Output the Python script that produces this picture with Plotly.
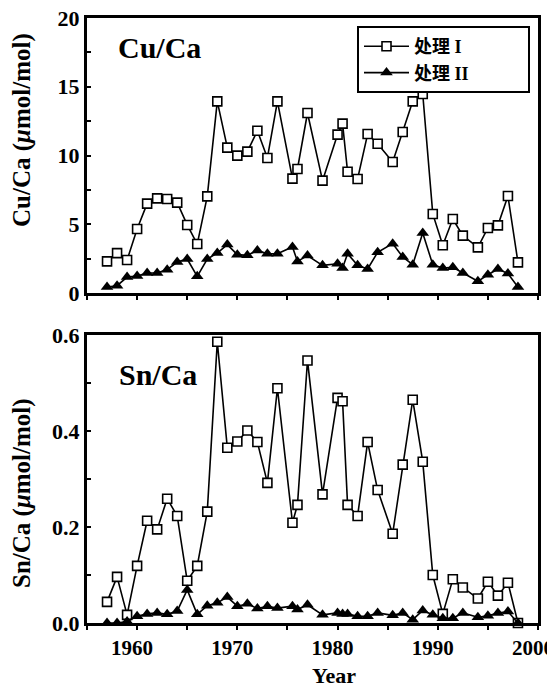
import plotly.graph_objects as go

# ---- data ----
years = [1957, 1958, 1959, 1960, 1961, 1962, 1963, 1964, 1965, 1966, 1967, 1968,
         1969, 1970, 1971, 1972, 1973, 1974, 1975.5, 1976, 1977, 1978.5, 1980,
         1980.5, 1981, 1982, 1983, 1984, 1985.5, 1986.5, 1987.5, 1988.5, 1989.5,
         1990.5, 1991.5, 1992.5, 1994, 1995, 1996, 1997, 1998]

cu_I = [2.3, 2.9, 2.4, 4.65, 6.5, 6.88, 6.84, 6.57, 4.95, 3.56, 7.03, 13.94,
        10.57, 9.99, 10.28, 11.8, 9.82, 13.94, 8.32, 9.02, 13.09, 8.17, 11.52,
        12.32, 8.82, 8.29, 11.56, 10.86, 9.53, 11.71, 13.94, 14.47, 5.75,
        3.47, 5.38, 4.17, 3.32, 4.73, 4.92, 7.05, 2.23]

cu_II = [0.44, 0.53, 1.16, 1.24, 1.45, 1.45, 1.7, 2.25, 2.47, 1.21, 2.47, 2.91,
         3.52, 2.79, 2.74, 3.1, 2.86, 2.86, 3.35, 2.3, 2.72, 2.01, 2.13,
         1.82, 2.86, 2.01, 1.75, 2.96, 3.59, 2.62, 2.06, 4.36, 2.06,
         1.82, 1.87, 1.45, 0.85, 1.33, 1.75, 1.41, 0.44]

sn_I = [0.044, 0.096, 0.017, 0.119, 0.213, 0.195, 0.259, 0.223, 0.088, 0.119,
        0.232, 0.586, 0.365, 0.378, 0.401, 0.377, 0.292, 0.489, 0.209, 0.246,
        0.547, 0.268, 0.469, 0.462, 0.246, 0.223, 0.377, 0.277, 0.186, 0.330,
        0.465, 0.336, 0.100, 0.019, 0.091, 0.074, 0.051, 0.086, 0.057, 0.084,
        0.0]

sn_II = [0.0, 0.0, 0.003, 0.014, 0.019, 0.021, 0.018, 0.025, 0.069, 0.018,
         0.036, 0.042, 0.054, 0.035, 0.040, 0.030, 0.035, 0.031, 0.035, 0.028,
         0.038, 0.017, 0.021, 0.019, 0.019, 0.014, 0.014, 0.021, 0.016, 0.021,
         0.007, 0.026, 0.017, 0.010, 0.010, 0.021, 0.012, 0.015, 0.021, 0.024,
         0.0]

names = ["处理 I", "处理 II"]
panel_labels = ["Cu/Ca", "Sn/Ca"]
y_titles = ["Cu/Ca (<i>μ</i>mol/mol)", "Sn/Ca (<i>μ</i>mol/mol)"]
x_title = "Year"

SERIF = "Liberation Serif, Times New Roman, Noto Sans CJK SC, serif"

# screen-pixel helpers (page has an 8px body margin)
PX0, PX1, PY0, PY1 = 87, 538, 18, 623


def px(x):
    return (x - PX0) / (PX1 - PX0)


def py(y):
    return (PY1 - y) / (PY1 - PY0)


PAD = "\u00a0" * 12  # widen the legend box like the reference

fig = go.Figure()

sq = dict(symbol="square", size=9, color="white", line=dict(color="black", width=1.6))
tri = dict(symbol="triangle-up", size=11, color="black", line=dict(color="black", width=0))
ln = dict(color="black", width=1.6)

fig.add_trace(go.Scatter(x=years, y=cu_I, mode="lines+markers", name=names[0] + PAD,
                         marker=sq, line=ln, xaxis="x2", yaxis="y2", cliponaxis=False,
                         legendrank=1))
fig.add_trace(go.Scatter(x=years, y=cu_II, mode="lines+markers", name=names[1] + PAD,
                         marker=tri, line=ln, xaxis="x2", yaxis="y2", cliponaxis=False,
                         legendrank=2))
fig.add_trace(go.Scatter(x=years, y=sn_I, mode="lines+markers", name=names[0],
                         marker=sq, line=ln, xaxis="x", yaxis="y", cliponaxis=False,
                         showlegend=False))
fig.add_trace(go.Scatter(x=years, y=sn_II, mode="lines+markers", name=names[1],
                         marker=tri, line=ln, xaxis="x", yaxis="y", cliponaxis=False,
                         showlegend=False))

xtickfont = dict(family=SERIF, size=21, color="black", weight="bold")
ytickfont = dict(family=SERIF, size=22, color="black", weight="bold")

xcommon = dict(range=[1955, 2000], showline=True, mirror=True, linecolor="black",
               linewidth=3, showgrid=False, zeroline=False, automargin=False,
               ticks="outside", ticklen=4, tickwidth=2, tickcolor="black",
               dtick=10, tick0=1960, ticklabeloverflow="allow", ticklabelshift=-5,
               minor=dict(ticks="outside", ticklen=4, tickwidth=2, dtick=5,
                          tickcolor="black", showgrid=False),
               tickfont=xtickfont)
ycommon = dict(showline=True, mirror=True, linecolor="black", linewidth=3,
               showgrid=False, zeroline=False, ticks="inside", ticklen=4,
               automargin=False, ticklabeloverflow="allow",
               tickwidth=2, tickcolor="black", tickfont=ytickfont)

W, H = 555, 687
fig.update_layout(
    width=W, height=H,
    margin=dict(l=PX0 - 8, r=W + 8 - PX1, t=PY0 - 8, b=H + 8 - PY1, autoexpand=False),
    paper_bgcolor="white", plot_bgcolor="white",
    xaxis=dict(**xcommon, anchor="y", domain=[0, 1]),
    xaxis2=dict(**xcommon, anchor="y2", domain=[0, 1], matches="x",
                showticklabels=False),
    yaxis=dict(**ycommon, domain=[0, py(335)], range=[0, 0.6], dtick=0.2,
               tickformat=".1f",
               minor=dict(ticks="inside", ticklen=4, tickwidth=2, dtick=0.1,
                          tickcolor="black", showgrid=False)),
    yaxis2=dict(**ycommon, domain=[py(293), 1], range=[0, 20], dtick=5,
                minor=dict(ticks="inside", ticklen=4, tickwidth=2, dtick=2.5,
                           tickcolor="black", showgrid=False)),
    legend=dict(x=px(357), y=py(26), xanchor="left", yanchor="top",
                bgcolor="white", bordercolor="black", borderwidth=2,
                font=dict(family=SERIF, size=18, color="black", weight="bold"),
                itemwidth=45, tracegroupgap=0),
    showlegend=True,
)

ann_font = dict(family=SERIF, size=30, color="black", weight="bold")
fig.add_annotation(text=panel_labels[0], xref="paper", yref="paper",
                   x=px(116), y=py(48), xanchor="left", yanchor="middle",
                   showarrow=False, font=ann_font)
fig.add_annotation(text=panel_labels[1], xref="paper", yref="paper",
                   x=px(117), y=py(375), xanchor="left", yanchor="middle",
                   showarrow=False, font=ann_font)

title_font = dict(family=SERIF, size=25, color="black", weight="bold")
fig.add_annotation(text=y_titles[0], xref="paper", yref="paper",
                   x=px(22), y=py(130), textangle=-90,
                   xanchor="center", yanchor="middle", showarrow=False,
                   font=title_font)
fig.add_annotation(text=y_titles[1], xref="paper", yref="paper",
                   x=px(22), y=py(493), textangle=-90,
                   xanchor="center", yanchor="middle", showarrow=False,
                   font=title_font)
fig.add_annotation(text=x_title, xref="paper", yref="paper",
                   x=px(334), y=py(675),
                   xanchor="center", yanchor="middle", showarrow=False,
                   font=dict(family=SERIF, size=22, color="black", weight="bold"))

fig.write_html("out.html")
